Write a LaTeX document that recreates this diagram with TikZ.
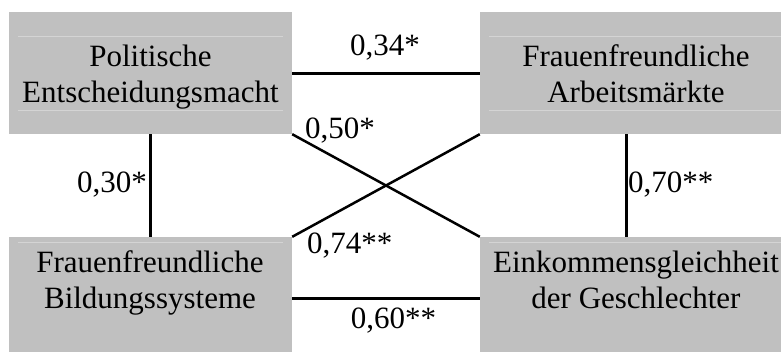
\documentclass[tikz,border=0pt]{standalone}
\usepackage{fontspec}
\setmainfont{Liberation Serif}
\definecolor{boxgray}{RGB}{192,192,192}
\definecolor{rulegray}{RGB}{212,212,212}
\begin{document}
\begin{tikzpicture}[x=1pt, y=-1pt,
  box/.style={fill=boxgray, inner sep=0pt},
  boxtext/.style={align=center, inner sep=0pt, font=\fontsize{31}{36}\selectfont},
  coef/.style={inner sep=0pt, font=\fontsize{31}{36}\selectfont},
  link/.style={line width=3pt}]
  \useasboundingbox (0,0) rectangle (781,351);

  % boxes
  \node[box, minimum width=283pt, minimum height=122pt] (pol) at (150.5,73) {};
  \node[box, minimum width=312pt, minimum height=122pt] (arb) at (636,73) {};
  \node[box, minimum width=283pt, minimum height=122pt] (bil) at (150.5,298) {};
  \node[box, minimum width=312pt, minimum height=122pt] (eink) at (636,298) {};

  % faint table rules
  \draw[rulegray, line width=0.6pt] (18,36) -- (283,36) (18,110) -- (283,110);
  \draw[rulegray, line width=0.6pt] (489,36) -- (781,36) (489,110) -- (781,110);
  \draw[rulegray, line width=0.6pt] (18,242) -- (283,242) (489,242) -- (781,242);

  % box texts
  \node[boxtext] (poltxt) at (150.5,76.8) {Politische\\Entscheidungsmacht};
  \node[boxtext] (arbtxt) at (636,73.4) {Frauenfreundliche\\Arbeitsmärkte};
  \node[boxtext] (biltxt) at (150,282.8) {Frauenfreundliche\\Bildungssysteme};
  \node[boxtext] (einktxt) at (636,279.4) {Einkommensgleichheit\\der Geschlechter};

  % correlations
  \draw[link] (pol.east) -- (arb.west);
  \draw[link] (bil.east) -- (eink.west);
  \draw[link] (pol.south) -- (bil.north);
  \draw[link] ([xshift=-10pt]arb.south) -- ([xshift=-10pt]eink.north);
  \draw[line width=2.5pt] (pol.south east) -- (eink.north west);
  \draw[line width=2.5pt] (bil.north east) -- (arb.south west);

  % coefficients
  \node[coef, anchor=base] (c34) at (385,55) {0,34*};
  \node[coef, anchor=base west] (c50) at (305,138) {0,50*};
  \node[coef, anchor=base east] (c30) at (147,192) {0,30*};
  \node[coef, anchor=base west] (c70) at (628,192) {0,70**};
  \node[coef, anchor=base west] (c74) at (307,253) {0,74**};
  \node[coef, anchor=base] (c60) at (393.5,328) {0,60**};
\end{tikzpicture}
\end{document}
